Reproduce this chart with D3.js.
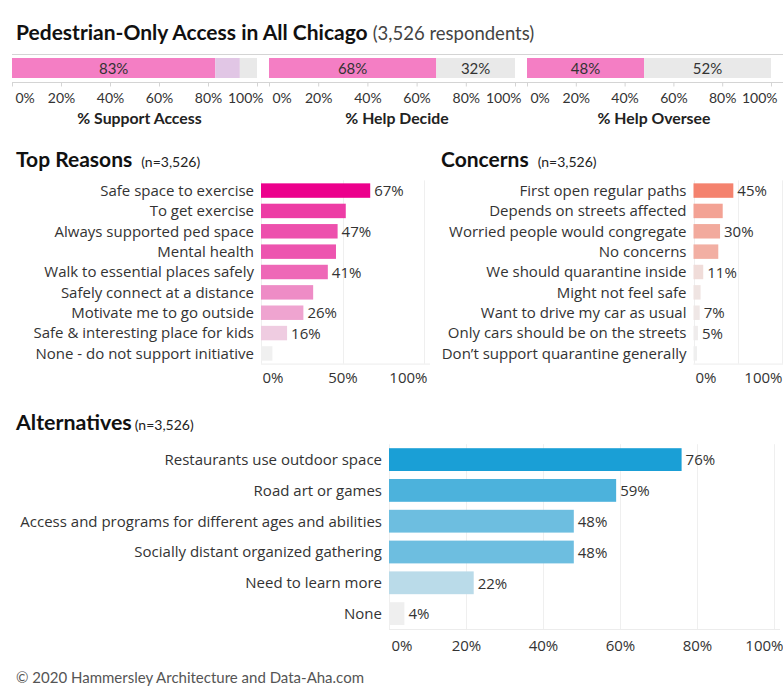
<!DOCTYPE html>
<html><head><meta charset="utf-8">
<script src="https://cdn.jsdelivr.net/npm/d3@7"></script>
<style>
body{margin:0;background:#fff;}
svg{font-family:"Open Sans", sans-serif;}
</style></head><body>
<svg id="c" width="783" height="700"></svg>
<script>
// ---------- DATA ----------
const topPanelTitles = ["% Support Access", "% Help Decide", "% Help Oversee"];
const supportAccess = [83, 10, 7];
const helpDecide = [68, 32];
const helpOversee = [48, 52];
const topLabelShown = [[true, false, false], [true, true], [true, true]];
const topTicks = [0, 20, 40, 60, 80, 100];

const reasons = ["Safe space to exercise", "To get exercise", "Always supported ped space", "Mental health",
  "Walk to essential places safely", "Safely connect at a distance", "Motivate me to go outside",
  "Safe & interesting place for kids", "None - do not support initiative"];
const reasonValues = [67, 52, 47, 46, 41, 32, 26, 16, 7];
const reasonLabelShown = [true, false, true, false, true, false, true, true, false];
const reasonTicks = [0, 50, 100];

const concerns = ["First open regular paths", "Depends on streets affected", "Worried people would congregate",
  "No concerns", "We should quarantine inside", "Might not feel safe", "Want to drive my car as usual",
  "Only cars should be on the streets", "Don\u2019t support quarantine generally"];
const concernValues = [45, 33, 30, 28, 11, 8, 7, 5, 4];
const concernLabelShown = [true, false, true, false, true, false, true, true, false];
const concernGridTicks = [0, 50, 100];
const concernTicks = [0, 100];

const alternatives = ["Restaurants use outdoor space", "Road art or games",
  "Access and programs for different ages and abilities", "Socially distant organized gathering",
  "Need to learn more", "None"];
const alternativeValues = [76, 59, 48, 48, 22, 4];
const alternativeLabelShown = [true, true, true, true, true, true];
const alternativeTicks = [0, 20, 40, 60, 80, 100];

// ---------- DRAW ----------
const svg = d3.select("#c");
const TXT = "#333333";
const BODY = "'Open Sans', sans-serif";
const BOLD = "Lato, sans-serif";

// Title
const t = svg.append("text").attr("x", 16).attr("y", 40).attr("fill", "#111");
t.append("tspan").attr("font-size", 21).attr("font-weight", 700).attr("font-family", BOLD)
  .text("Pedestrian-Only Access in All Chicago");
t.append("tspan").attr("font-size", 18.5).attr("fill", "#444").attr("font-family", "Lato").attr("dx", 5)
  .text("(3,526 respondents)");

// Top stacked panels
const topData = [supportAccess, helpDecide, helpOversee];
const topX = [[12, 257], [269, 515], [527, 771]];
const topColors = ["#f47ec4", "#e1c6e5", "#e9e9e9"];
const topColors2 = ["#f47ec4", "#e9e9e9"];

svg.append("line").attr("x1", 12).attr("x2", 783).attr("y1", 54.5).attr("y2", 54.5).attr("stroke", "#d4d4d4");
svg.append("line").attr("x1", 12).attr("x2", 783).attr("y1", 82.5).attr("y2", 82.5).attr("stroke", "#d4d4d4");

topData.forEach((vals, i) => {
  const x = d3.scaleLinear().domain([0, 100]).range(topX[i]);
  const cols = vals.length === 3 ? topColors : topColors2;
  let cum = 0;
  const segs = vals.map((v, j) => { const s = { v, j, a: cum, b: cum + v }; cum += v; return s; });
  const g = svg.append("g");
  g.selectAll("rect").data(segs).join("rect")
    .attr("x", d => x(d.a)).attr("width", d => x(d.b) - x(d.a))
    .attr("y", 58).attr("height", 20).attr("fill", d => cols[d.j]);
  g.selectAll("text.v").data(segs.filter(d => topLabelShown[i][d.j])).join("text")
    .attr("class", "v")
    .attr("x", d => (x(d.a) + x(d.b)) / 2).attr("y", 74).attr("text-anchor", "middle")
    .attr("font-size", 15).attr("fill", TXT).attr("font-family", "Lato").text(d => d.v + "%");
  const ax = svg.append("g").attr("transform", "translate(0,82.5)")
    .call(d3.axisBottom(x).tickValues(topTicks).tickFormat(d => d + "%").tickSize(4).tickPadding(7));
  ax.select(".domain").remove();
  ax.selectAll(".tick line").attr("stroke", "#d4d4d4");
  ax.selectAll(".tick text").attr("font-size", 14).attr("fill", TXT).attr("font-family", "Lato");
  const tt = ax.selectAll(".tick text").nodes();
  d3.select(tt[0]).attr("text-anchor", "start").attr("dx", 3);
  d3.select(tt[tt.length - 1]).attr("text-anchor", "end").attr("dx", 6);
  svg.append("text").attr("x", (topX[i][0] + topX[i][1]) / 2 + 5).attr("y", 124)
    .attr("text-anchor", "middle").attr("font-size", 15.8).attr("font-weight", 700).attr("fill", "#222")
    .attr("font-family", BOLD).text(topPanelTitles[i]);
});

// Section titles
function sectionTitle(x, y, main, sub, gap, size) {
  const s = svg.append("text").attr("x", x).attr("y", y).attr("fill", "#111").attr("font-family", BOLD);
  s.append("tspan").attr("font-size", size).attr("font-weight", 700).text(main);
  s.append("tspan").attr("font-size", 14).attr("dx", gap).attr("fill", "#222").text(sub);
}
sectionTitle(16, 167, "Top Reasons", "(n=3,526)", 9, 21);
sectionTitle(441, 167, "Concerns", "(n=3,526)", 9, 21);
sectionTitle(16, 430, "Alternatives", "(n=3,526)", 3, 21.4);

function barPanel(o) {
  const x = d3.scaleLinear().domain([0, 100]).range([o.x0, o.x1]);
  const y = d3.scaleBand().domain(o.cats).range([o.yTop, o.yBot]).paddingInner(o.pad).paddingOuter(o.pad / 2);
  const g = svg.append("g");
  g.selectAll("line.grid").data(o.gridTicks).join("line").attr("class", "grid")
    .attr("x1", d => Math.round(x(d)) + 0.5).attr("x2", d => Math.round(x(d)) + 0.5)
    .attr("y1", o.yTop).attr("y2", o.yBot).attr("stroke", "#efefef");
  g.append("line").attr("x1", o.x0).attr("x2", o.x1 + 6).attr("y1", o.yBot + 0.5).attr("y2", o.yBot + 0.5)
    .attr("stroke", "#ececec");
  const data = o.cats.map((c, i) => ({ c, v: o.vals[i], show: o.shown[i] }));
  g.selectAll("rect").data(data).join("rect")
    .attr("x", o.x0).attr("y", d => y(d.c)).attr("height", y.bandwidth())
    .attr("width", d => x(d.v) - o.x0).attr("fill", d => o.color(d.v));
  g.selectAll("text.cat").data(data).join("text").attr("class", "cat")
    .attr("x", o.x0 - 7).attr("y", d => y(d.c) + y.bandwidth() / 2).attr("dy", "0.36em")
    .attr("text-anchor", "end").attr("font-size", 15).attr("fill", TXT).text(d => d.c);
  g.selectAll("text.val").data(data.filter(d => d.show)).join("text").attr("class", "val")
    .attr("x", d => x(d.v) + 4).attr("y", d => y(d.c) + y.bandwidth() / 2).attr("dy", "0.38em")
    .attr("font-size", 15).attr("fill", TXT).text(d => d.v + "%");
  const ax = svg.append("g").attr("transform", `translate(0,${o.yBot})`)
    .call(d3.axisBottom(x).tickValues(o.ticks).tickFormat(d => d + "%").tickSize(0).tickPadding(o.tickPad));
  ax.select(".domain").remove();
  ax.selectAll(".tick text").attr("font-size", 15).attr("fill", TXT).attr("font-family", BODY);
  const tt = ax.selectAll(".tick text").nodes();
  d3.select(tt[0]).attr("text-anchor", "start").attr("dx", o.dxFirst);
  d3.select(tt[tt.length - 1]).attr("text-anchor", "end").attr("dx", o.dxLast);
}

barPanel({
  cats: reasons, vals: reasonValues, shown: reasonLabelShown,
  color: d3.scaleLinear().domain([7, 67]).range(["#f0f0f0", "#ec008c"]).clamp(true),
  x0: 261, x1: 424, yTop: 180.4, yBot: 363.6, pad: 0.29,
  gridTicks: reasonTicks, ticks: reasonTicks, tickPad: 9, dxFirst: 1, dxLast: 3
});
barPanel({
  cats: concerns, vals: concernValues, shown: concernLabelShown,
  color: d3.scaleLinear().domain([4, 45]).range(["#efefef", "#f4826e"]).clamp(true),
  x0: 693.5, x1: 782, yTop: 180.4, yBot: 363.6, pad: 0.29,
  gridTicks: concernGridTicks, ticks: concernTicks, tickPad: 9, dxFirst: 1.5, dxLast: 0
});
barPanel({
  cats: alternatives, vals: alternativeValues, shown: alternativeLabelShown,
  color: d3.scaleLinear().domain([4, 76]).range(["#efefef", "#1a9fd6"]).clamp(true),
  x0: 389, x1: 774, yTop: 444.2, yBot: 629, pad: 0.26,
  gridTicks: alternativeTicks, ticks: alternativeTicks, tickPad: 11, dxFirst: 2, dxLast: 9
});

// Footer
svg.append("text").attr("x", 16).attr("y", 683).attr("font-size", 15).attr("fill", "#555")
  .attr("font-family", "Lato").text("\u00a9 2020 Hammersley Architecture and Data-Aha.com");
</script>
</body></html>
